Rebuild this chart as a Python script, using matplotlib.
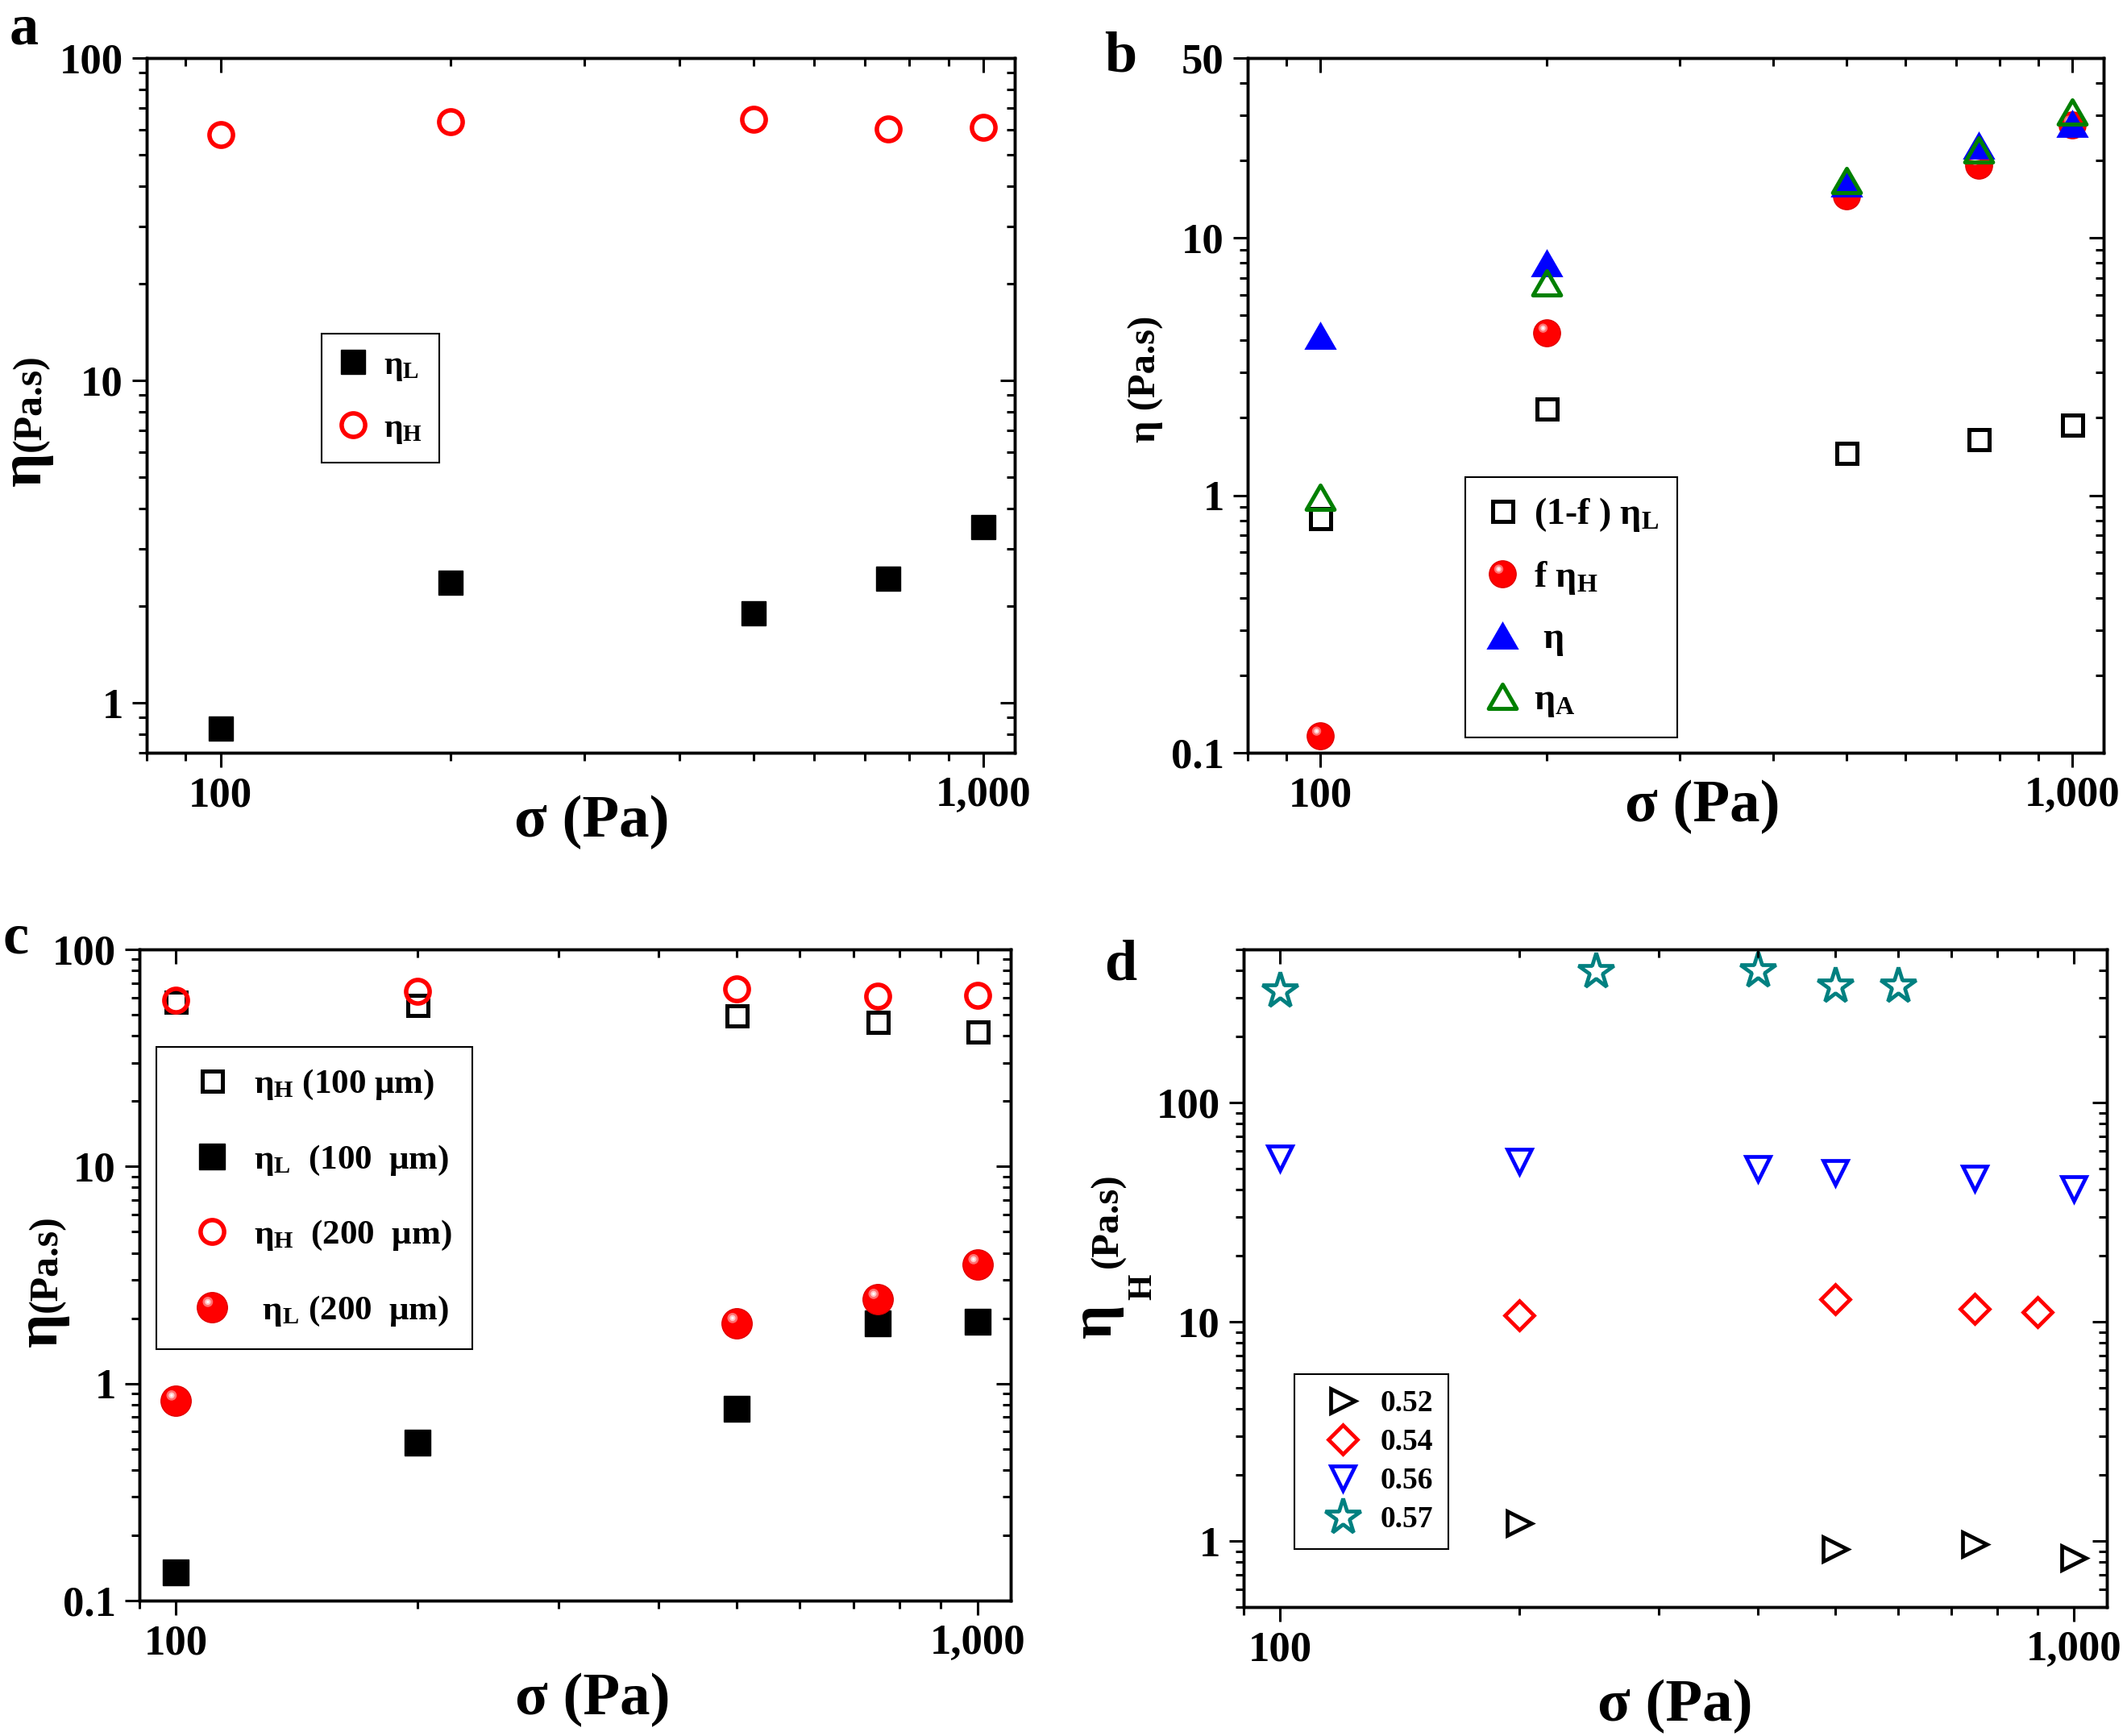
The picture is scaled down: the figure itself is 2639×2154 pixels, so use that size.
import numpy as np
import matplotlib
matplotlib.use('Agg')
import matplotlib.pyplot as plt
from matplotlib.path import Path
from matplotlib.ticker import LogLocator, FixedLocator, FixedFormatter, NullFormatter
from matplotlib.legend_handler import HandlerTuple

plt.rcParams['font.family'] = ['Liberation Serif', 'DejaVu Serif']
plt.rcParams['font.weight'] = 'bold'
plt.rcParams['mathtext.fontset'] = 'custom'
plt.rcParams['mathtext.rm'] = 'Liberation Serif:bold'
plt.rcParams['mathtext.it'] = 'Liberation Serif:bold'
plt.rcParams['mathtext.bf'] = 'Liberation Serif:bold'
plt.rcParams['mathtext.default'] = 'rm'

# ---- data ----
# panel a
sigma_a = [100, 200, 500, 750, 1000]
etaL_a = [0.83, 2.36, 1.89, 2.43, 3.5]
etaH_a = [57.8, 63.3, 64.4, 60.4, 60.8]

# panel b
sigma_b = [100, 200, 500, 750, 1000]
one_minus_f_etaL = [0.815, 2.18, 1.46, 1.65, 1.88]
f_etaH = [0.116, 4.27, 14.6, 19.2, 27.4]
eta_b = [4.2, 8.0, 16.3, 22.9, 27.8]
etaA_b = [0.98, 6.7, 16.7, 22.0, 30.8]

# panel c
sigma_c = [100, 200, 500, 750, 1000]
etaH_100 = [57.2, 55.3, 49.6, 46.5, 41.7]
etaL_100 = [0.135, 0.536, 0.762, 1.90, 1.93]
etaH_200 = [58.5, 64.1, 65.5, 61.0, 61.6]
sigma_c_L200 = [100, 500, 750, 1000]
etaL_200 = [0.832, 1.89, 2.44, 3.52]

# panel d
sigma_052 = [200, 500, 750, 1000]
eta_052 = [1.21, 0.92, 0.97, 0.84]
sigma_054 = [200, 500, 750, 900]
eta_054 = [10.7, 12.7, 11.5, 11.1]
sigma_056 = [100, 200, 400, 500, 750, 1000]
eta_056 = [55.8, 53.8, 50.1, 48.0, 45.0, 40.4]
sigma_057 = [100, 250, 400, 500, 600]
eta_057 = [326, 398, 400, 342, 342]

RED = '#ff0000'
BLUE = '#0000ff'
GREEN = '#008000'
TEAL = '#008080'

# custom marker shapes
tri_up = Path([(-1, -0.866), (1, -0.866), (0, 0.866), (-1, -0.866)],
              [Path.MOVETO, Path.LINETO, Path.LINETO, Path.CLOSEPOLY])


def offset_circle(cx, cy, r):
    circ = Path.unit_circle()
    verts = np.vstack([[[1.0, 0.0]], circ.vertices * r + [cx, cy]])
    codes = np.concatenate([[Path.MOVETO], circ.codes])
    return Path(verts, codes)


hl_pink = offset_circle(-0.3, 0.38, 0.34)
hl_light = offset_circle(-0.3, 0.38, 0.2)
hl_white = offset_circle(-0.3, 0.38, 0.09)


def balls(ax, x, y, ms):
    h0, = ax.plot(x, y, 'o', ls='none', ms=ms, mfc=RED, mec='#e00000', mew=1)
    h1, = ax.plot(x, y, ls='none', marker=hl_pink, ms=ms, mfc='#ff7070', mec='none')
    h2, = ax.plot(x, y, ls='none', marker=hl_light, ms=ms, mfc='#ffc8c8', mec='none')
    h3, = ax.plot(x, y, ls='none', marker=hl_white, ms=ms, mfc='white', mec='none')
    return (h0, h1, h2, h3)


def style(ax, xlim, ylim, yticks, ylabels):
    ax.set_xscale('log')
    ax.set_yscale('log')
    ax.set_xlim(*xlim)
    ax.set_ylim(*ylim)
    axes = [ax, ax.twiny(), ax.twinx()]
    for i, a in enumerate(axes):
        if i == 1:
            a.set_xscale('log')
            a.set_xlim(*xlim)
        if i == 2:
            a.set_yscale('log')
            a.set_ylim(*ylim)
        a.xaxis.set_major_locator(FixedLocator([100, 1000]))
        a.xaxis.set_major_formatter(FixedFormatter(['100', '1,000']))
        a.xaxis.set_minor_locator(LogLocator(base=10, subs=np.arange(2, 10)))
        a.xaxis.set_minor_formatter(NullFormatter())
        a.yaxis.set_major_locator(FixedLocator(yticks))
        a.yaxis.set_major_formatter(FixedFormatter(ylabels))
        a.yaxis.set_minor_locator(LogLocator(base=10, subs=np.arange(2, 10)))
        a.yaxis.set_minor_formatter(NullFormatter())
        for s in a.spines.values():
            s.set_linewidth(2.4)
    ax.tick_params(which='major', direction='out', length=13, width=2.2,
                   labelsize=38, pad=8)
    ax.tick_params(which='minor', direction='out', length=7, width=2.2)
    axes[1].tick_params(axis='x', which='major', direction='in', length=13, width=2.2, labeltop=False)
    axes[1].tick_params(axis='x', which='minor', direction='in', length=7, width=2.2)
    axes[2].tick_params(axis='y', which='major', direction='in', length=13, width=2.2, labelright=False)
    axes[2].tick_params(axis='y', which='minor', direction='in', length=7, width=2.2)


def rot_text(ax, x, y, s, size, ha):
    # vertical text, anchored on its baseline at (x, y) in axes coordinates
    ax.text(x, y, s, transform=ax.transAxes, rotation=90, rotation_mode='anchor',
            ha=ha, va='baseline', fontsize=size, fontweight='bold')


W, H = 2639, 2154
fig = plt.figure(figsize=(W / 100, H / 100), dpi=100)


def axes_px(l, r, t, b):
    return fig.add_axes([l / W, 1 - b / H, (r - l) / W, (b - t) / H])


leg_kw = dict(frameon=True, fancybox=False, shadow=False, framealpha=1,
              edgecolor='black', borderaxespad=0, loc='upper left',
              bbox_transform=fig.transFigure)

# ---- panel a ----
ax = axes_px(182, 1259, 72, 934)
hL, = ax.plot(sigma_a, etaL_a, 's', ls='none', ms=22, color='black')
hH, = ax.plot(sigma_a, etaH_a, 'o', ls='none', ms=21, mfc='none', mec=RED, mew=4)
style(ax, (80, 1100), (0.7, 100), [1, 10, 100], ['1', '10', '100'])
ax.text(0.513, -0.10, 'σ (Pa)', transform=ax.transAxes, ha='center', va='center',
        fontsize=54, fontweight='bold')
rot_text(ax, -0.1226, 0.434, 'η', 54, 'right')
rot_text(ax, -0.1226, 0.434, '(Pa.s)', 36, 'left')
lg = ax.legend([hL, hH], [r'$\eta_L$', r'$\eta_H$'], bbox_to_anchor=(399 / W, 1 - 414 / H),
               prop={'size': 30, 'weight': 'bold'}, labelspacing=0.9, handlelength=0.86,
               handletextpad=0.5, borderpad=0.5, **leg_kw)
lg.get_frame().set_linewidth(1.5)

# ---- panel b ----
ax = axes_px(1548, 2610, 72, 934)
h1, = ax.plot(sigma_b, one_minus_f_etaL, 's', ls='none', ms=18, mfc='none', mec='black', mew=3.6)
h2 = balls(ax, sigma_b, f_etaH, 24)
h3, = ax.plot(sigma_b, eta_b, ls='none', marker=tri_up, ms=29, color=BLUE, mew=0)
h4, = ax.plot(sigma_b, etaA_b, ls='none', marker=tri_up, ms=25, mfc='none', mec=GREEN, mew=3.6)
style(ax, (80, 1100), (0.1, 50), [0.1, 1, 10, 50], ['0.1', '1', '10', '50'])
ax.text(0.531, -0.078, 'σ (Pa)', transform=ax.transAxes, ha='center', va='center',
        fontsize=54, fontweight='bold')
ax.text(-0.108, 0.538, 'η (Pa.s)', transform=ax.transAxes, ha='center', va='baseline',
        rotation=90, rotation_mode='anchor', fontsize=35, fontweight='bold')
lg = ax.legend([h1, h2, h3, h4], [r'(1-f ) $\eta_L$', r'f $\eta_H$', r' $\eta$', r'$\eta_A$'],
               handler_map={tuple: HandlerTuple(ndivide=1)},
               bbox_to_anchor=(1818 / W, 1 - 592 / H),
               prop={'size': 33, 'weight': 'bold'}, labelspacing=0.7, handlelength=1.0,
               handletextpad=0.35, borderpad=0.5, **leg_kw)
lg.get_frame().set_linewidth(1.5)

# ---- panel c ----
ax = axes_px(173, 1254, 1178, 1986)
c1, = ax.plot(sigma_c, etaH_100, 's', ls='none', ms=18, mfc='none', mec='black', mew=3.6)
c2, = ax.plot(sigma_c, etaL_100, 's', ls='none', ms=23, color='black')
c3, = ax.plot(sigma_c, etaH_200, 'o', ls='none', ms=21, mfc='none', mec=RED, mew=4)
c4 = balls(ax, sigma_c_L200, etaL_200, 27)
style(ax, (90, 1100), (0.1, 100), [0.1, 1, 10, 100], ['0.1', '1', '10', '100'])
ax.text(0.52, -0.152, 'σ (Pa)', transform=ax.transAxes, ha='center', va='center',
        fontsize=54, fontweight='bold')
rot_text(ax, -0.0953, 0.443, 'η', 54, 'right')
rot_text(ax, -0.0953, 0.443, '(Pa.s)', 36, 'left')
lg = ax.legend([c1, c2, c3, c4],
               [r'$\eta_H$ (100 μm)', r'$\eta_L$  (100  μm)', r'$\eta_H$  (200  μm)', r' $\eta_L$ (200  μm)'],
               handler_map={tuple: HandlerTuple(ndivide=1)},
               bbox_to_anchor=(194 / W, 1 - 1299 / H),
               prop={'size': 31, 'weight': 'bold'}, labelspacing=1.2, handlelength=2.0,
               handletextpad=0.2, borderpad=0.6, **leg_kw)
lg.get_frame().set_linewidth(1.5)

# ---- panel d ----
ax = axes_px(1543, 2614, 1178, 1994)
d1, = ax.plot(sigma_052, eta_052, '>', ls='none', ms=21, mfc='none', mec='black', mew=3.4)
d2, = ax.plot(sigma_054, eta_054, 'D', ls='none', ms=18, mfc='none', mec=RED, mew=3.4)
d3, = ax.plot(sigma_056, eta_056, 'v', ls='none', ms=22, mfc='none', mec=BLUE, mew=3.4)
d4, = ax.plot(sigma_057, eta_057, '*', ls='none', ms=33, mfc='none', mec=TEAL, mew=3.4)
style(ax, (90, 1100), (0.5, 500), [1, 10, 100], ['1', '10', '100'])
ax.text(0.4995, -0.151, 'σ (Pa)', transform=ax.transAxes, ha='center', va='center',
        fontsize=54, fontweight='bold')
# eta, dropped subscript H, then (Pa.s)
rot_text(ax, (1378 - 1543) / 1071, (1994 - 1617) / 816, 'η', 54, 'right')
rot_text(ax, (1428 - 1543) / 1071, (1994 - 1613) / 816, 'H', 30, 'left')
rot_text(ax, (1386 - 1543) / 1071, (1994 - 1573) / 816, '(Pa.s)', 35, 'left')
lg = ax.legend([d1, d2, d3, d4], ['0.52', '0.54', '0.56', '0.57'],
               bbox_to_anchor=(1606 / W, 1 - 1705 / H),
               prop={'size': 27, 'weight': 'bold'}, labelspacing=0.35, handlelength=2.2,
               handletextpad=0.13, borderpad=0.5, **leg_kw)
lg.get_frame().set_linewidth(1.5)

# panel letters
for x, y, s in [(30, 37, 'a'), (1390, 71, 'b'), (20, 1165, 'c'), (1390, 1198, 'd')]:
    fig.text(x / W, 1 - y / H, s, ha='center', va='center', fontsize=52, fontweight='bold')

fig.savefig('out.png', dpi=100)
